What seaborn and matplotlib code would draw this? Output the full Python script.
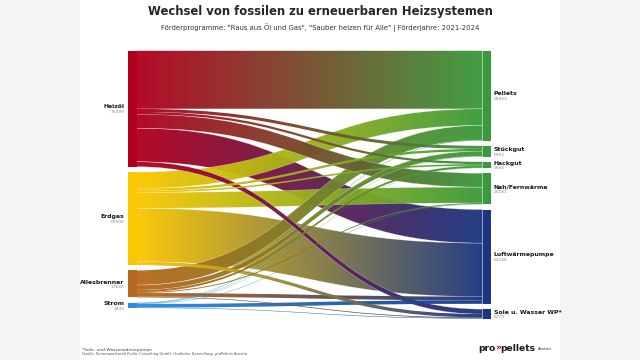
import numpy as np
import matplotlib
matplotlib.use("Agg")
import matplotlib.pyplot as plt
from matplotlib.path import Path
from matplotlib.patches import PathPatch, Rectangle
from matplotlib.colors import to_rgb
import seaborn as sns

# ---------------- data ----------------
sources = ["Heizöl", "Erdgas", "Allesbrenner", "Strom"]
targets = ["Pellets", "Stückgut", "Hackgut", "Nah/Fernwärme", "Luftwärmepumpe", "Sole u. Wasser WP*"]
# flows from each source to targets (same order as targets)
heizoel = [37857, 2000, 1500, 9060, 21846, 3236]
erdgas = [10740, 1500, 1000, 10300, 34790, 2176]
allesbrenner = [9595, 3300, 1300, 600, 2400, 450]
strom = [263, 162, 160, 221, 2310, 317]
source_totals = [75499, 60506, 17645, 3433]
target_totals = [58455, 6962, 3960, 20181, 61346, 6179]

source_colors = ["#b0001e", "#fbc800", "#b8681c", "#2a8ee4"]
target_colors = ["#3a9a3b", "#3a9a3b", "#3a9a3b", "#3a9a3b", "#1b3680", "#1b3680"]

title = "Wechsel von fossilen zu erneuerbaren Heizsystemen"
subtitle = 'Förderprogramme: "Raus aus Öl und Gas", "Sauber heizen für Alle" | Förderjahre: 2021-2024'
foot1 = "*Sole- und Wasserwärmepumpe"
foot2 = "Quelle: Kommunalkredit Public Consulting GmbH, Grafische Darstellung: proPellets Austria"

flows = np.array([heizoel, erdgas, allesbrenner, strom], dtype=float)

# ---------------- style ----------------
sns.set_theme(style="white")
plt.rcParams["font.family"] = ["DejaVu Sans"]

fig = plt.figure(figsize=(6.4, 3.6), dpi=100)
fig.patch.set_facecolor("#f3f4f6")
ax = fig.add_axes([0, 0, 1, 1])
ax.set_facecolor("#f3f4f6")
ax.axis("off")
ax.add_patch(Rectangle((80, 0), 480, 360, facecolor="white", edgecolor="none", zorder=0))

# ---------------- layout ----------------
TOP = 50.7
GAP = 5.3
total = flows.sum()
k = 241.4 / total
XL0, XL1 = 128.0, 136.5
XR0, XR1 = 482.5, 491.0

src_tot = flows.sum(axis=1)
tgt_tot = flows.sum(axis=0)

src_y = []
y = TOP
for v in src_tot:
    src_y.append(y)
    y += v * k + GAP
tgt_y = []
y = TOP
for v in tgt_tot:
    tgt_y.append(y)
    y += v * k + GAP

# ---------------- links ----------------
src_off = list(src_y)
tgt_off = list(tgt_y)
tmp = {}
for i in range(len(sources)):
    for j in range(len(targets)):
        v = flows[i, j]
        if v <= 0:
            continue
        h = v * k
        tmp[(i, j)] = (src_off[i], src_off[i] + h, h)
        src_off[i] += h
final = []
for j in range(len(targets)):
    for i in range(len(sources)):
        if (i, j) in tmp:
            s0, s1, h = tmp[(i, j)]
            t0, t1 = tgt_off[j], tgt_off[j] + h
            tgt_off[j] += h
            final.append((i, j, s0, s1, t0, t1))
# larger flows underneath, thinner flows on top
final.sort(key=lambda r: -flows[r[0], r[1]])

xm = (XL1 + XR0) / 2
N = 256
for z, (i, j, s0, s1, t0, t1) in enumerate(final):
    verts = [(XL1, s0), (xm, s0), (xm, t0), (XR0, t0),
             (XR0, t1), (xm, t1), (xm, s1), (XL1, s1), (XL1, s0)]
    codes = [Path.MOVETO, Path.CURVE4, Path.CURVE4, Path.CURVE4,
             Path.LINETO, Path.CURVE4, Path.CURVE4, Path.CURVE4, Path.CLOSEPOLY]
    path = Path(verts, codes)
    patch = PathPatch(path, transform=ax.transData, facecolor="none", edgecolor="none")
    c0 = np.array(to_rgb(source_colors[i]))
    c1 = np.array(to_rgb(target_colors[j]))
    t = np.linspace(0, 1, N)[:, None]
    img = (c0 * (1 - t) + c1 * t)[None, :, :]
    ymin = min(s0, t0) - 1
    ymax = max(s1, t1) + 1
    zz = 2 + z * 0.01
    im = ax.imshow(img, extent=(XL1, XR0, ymax, ymin), aspect="auto",
                   interpolation="bilinear", alpha=0.96, zorder=zz)
    im.set_clip_path(patch)
    # faint light outline on the wider bands
    if (s1 - s0) > 4:
        top_edge = Path(verts[:4], codes[:4])
        bot_edge = Path([verts[4], verts[5], verts[6], verts[7]],
                        [Path.MOVETO, Path.CURVE4, Path.CURVE4, Path.CURVE4])
        for ep in (top_edge, bot_edge):
            ax.add_patch(PathPatch(ep, facecolor="none", edgecolor="white",
                                   linewidth=0.35, alpha=0.5, zorder=zz + 0.005))

# ---------------- nodes ----------------
for i, name in enumerate(sources):
    y0 = src_y[i]
    h = src_tot[i] * k
    ax.add_patch(Rectangle((XL0, y0), XL1 - XL0, h, facecolor=source_colors[i],
                           edgecolor="none", zorder=5))
    c = y0 + h / 2
    ax.text(124.5, c - 0.3, name, ha="right", va="baseline", fontsize=4.4,
            fontweight="bold", color="#1a1a1a")
    ax.text(124.5, c + 4.6, f"{source_totals[i]}", ha="right", va="baseline",
            fontsize=3.2, color="#8a8a8a")

for j, name in enumerate(targets):
    y0 = tgt_y[j]
    h = tgt_tot[j] * k
    ax.add_patch(Rectangle((XR0, y0), XR1 - XR0, h, facecolor=target_colors[j],
                           edgecolor="none", zorder=5))
    c = y0 + h / 2
    ax.text(494, c - 0.3, name, ha="left", va="baseline", fontsize=4.4,
            fontweight="bold", color="#1a1a1a")
    ax.text(494, c + 4.6, f"{target_totals[j]}", ha="left", va="baseline",
            fontsize=3.2, color="#8a8a8a")

# ---------------- texts ----------------
ax.text(320, 15.5, title, ha="center", va="baseline", fontsize=8.4,
        fontweight="bold", color="#262626")
ax.text(320, 30.5, subtitle, ha="center", va="baseline", fontsize=4.95, color="#333333")
ax.text(82, 351, foot1, ha="left", va="baseline", fontsize=3.2, color="#444444")
ax.text(82, 355.5, foot2, ha="left", va="baseline", fontsize=2.6, color="#555555")

ax.set_xlim(0, 640)
ax.set_ylim(360, 0)

# logo text
fig.canvas.draw()
r = fig.canvas.get_renderer()
x = 478.0
for part, col in [("pro", "#1a1a1a"), ("»", "#c0001a"), ("pellets", "#1a1a1a")]:
    tx = ax.text(x, 351, part, ha="left", va="baseline", fontsize=6.6,
                 fontweight="bold", color=col)
    bb = tx.get_window_extent(renderer=r)
    x = ax.transData.inverted().transform((bb.x1, bb.y0))[0] - 0.2
ax.text(x + 2, 350.5, "Austria", ha="left", va="baseline", fontsize=2.8, color="#333333")

fig.savefig("out.png", dpi=100, facecolor=fig.get_facecolor())
